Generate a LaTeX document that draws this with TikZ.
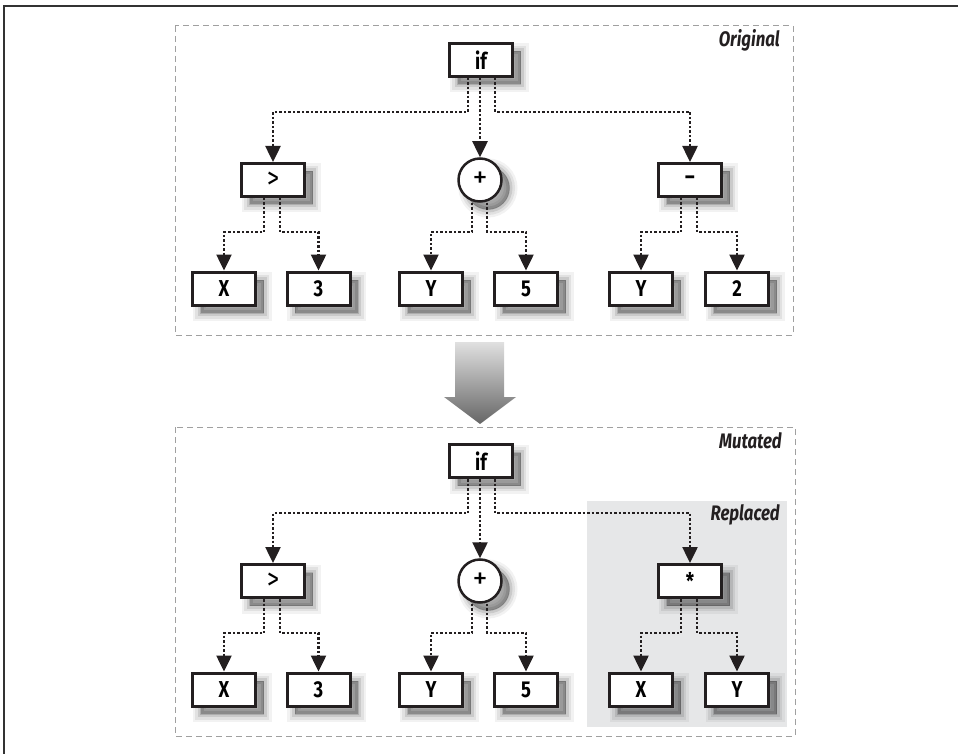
\documentclass[tikz,border=0pt]{standalone}
\usepackage{fontspec}
\setmainfont{Fira Sans}
\newfontfamily\cond[FakeStretch=0.8]{Fira Sans}
\newfontfamily\plain{Fira Sans Light}
\usetikzlibrary{arrows.meta}
\definecolor{repl}{RGB}{230,231,232}
\definecolor{ink}{RGB}{35,31,32}
\definecolor{dashc}{RGB}{160,160,160}
\begin{document}
\begin{tikzpicture}[x=1pt,y=-1pt,
  shad/.style={
    preaction={draw=black, fill=black, line width=16pt, opacity=0.05, transform canvas={shift={(8pt,-8pt)}}},
    preaction={draw=black, fill=black, line width=11pt, opacity=0.07, transform canvas={shift={(8pt,-8pt)}}},
    preaction={draw=black, fill=black, line width=6pt, opacity=0.10, transform canvas={shift={(8pt,-8pt)}}},
    preaction={draw=black, fill=black, line width=1pt, opacity=0.14, transform canvas={shift={(8pt,-8pt)}}}},
  box/.style={shad, draw=ink, line width=3pt, fill=white, minimum width=63pt, minimum height=33pt, inner sep=0pt, font=\cond\bfseries\fontsize{23}{26}\selectfont},
  opbox/.style={box, font=\cond\fontsize{30}{30}\selectfont},
  opcirc/.style={shad, circle, draw=ink, line width=2.5pt, fill=white, minimum size=43pt, inner sep=0pt, font=\fontsize{30}{30}\selectfont},
  conn/.style={draw=ink, line width=2.5pt, dash pattern=on 2.5pt off 2pt, -{Triangle[length=16pt,width=15pt]}},
  dashbox/.style={draw=dashc, line width=1pt, dash pattern=on 6pt off 4pt},
  tag/.style={anchor=base east, inner sep=0pt, text=ink, font=\cond\bfseries\itshape\fontsize{21}{24}\selectfont}
]
\useasboundingbox (0,0) rectangle (958,754);
% outer frame
\draw[line width=1.5pt, black!80] (4,754) -- (4,6) -- (958,6);
% section frames
\draw[dashbox] (175,26) rectangle (793,335);
\draw[dashbox] (175,427) rectangle (795,736);
\fill[repl] (587,501) rectangle (787,727);
\node[tag] (orig) at (780,47) {Original};
\node[tag] (mut) at (782,448) {Mutated};
\node[tag] (rep) at (780,520) {Replaced};
% big arrow
\shade[top color=black!12, bottom color=black!60] (455,342) -- (504,342) -- (504,397) -- (516,397) -- (480,424) -- (444,397) -- (455,397) -- cycle;

% ---------- original tree
\node[box] (if) at (481,60) {if};
\node[opbox] (gt) at (273,180) {>};
\node[opcirc] (plus) at (480,180) {+};
\node[box] (minus) at (690,180) {–};
\node[box] (xa) at (224,288.5) {X};
\node[box] (ta) at (318.5,288.5) {3};
\node[box] (ya) at (431,288.5) {Y};
\node[box] (fa) at (526,288.5) {5};
\node[box] (yb) at (641,288.5) {Y};
\node[box] (tb) at (737,288.5) {2};

\draw[conn] ([xshift=-13pt]if.south) -- ++(0,34) -| (gt.north);
\draw[conn] (plus.north |- if.south) -- (plus.north);
\draw[conn] ([xshift=14pt]if.south) -- ++(0,34) -| (minus.north);
\draw[conn] ([xshift=-9pt]gt.south) -- ++(0,34) -| (xa.north);
\draw[conn] ([xshift=7pt]gt.south) -- ++(0,34) -| (ta.north);
\draw[conn] ([xshift=-8pt]plus.south) -- ++(0,29) -| (ya.north);
\draw[conn] ([xshift=7pt]plus.south) -- ++(0,29) -| (fa.north);
\draw[conn] ([xshift=-9pt]minus.south) -- ++(0,34) -| (yb.north);
\draw[conn] ([xshift=7pt]minus.south) -- ++(0,34) -| (tb.north);

% ---------- mutated tree
\node[box] (if2) at (481,461) {if};
\node[opbox] (gt2) at (273,581) {>};
\node[opcirc] (plus2) at (480,581) {+};
\node[box] (times) at (690,581) {*};
\node[box] (xc) at (224,689.5) {X};
\node[box] (tc) at (318.5,689.5) {3};
\node[box] (yc) at (431,689.5) {Y};
\node[box] (fc) at (526,689.5) {5};
\node[box] (xd) at (641,689.5) {X};
\node[box] (yd) at (737,689.5) {Y};

\draw[conn] ([xshift=-13pt]if2.south) -- ++(0,34) -| (gt2.north);
\draw[conn] (plus2.north |- if2.south) -- (plus2.north);
\draw[conn] ([xshift=14pt]if2.south) -- ++(0,34) -| (times.north);
\draw[conn] ([xshift=-9pt]gt2.south) -- ++(0,34) -| (xc.north);
\draw[conn] ([xshift=7pt]gt2.south) -- ++(0,34) -| (tc.north);
\draw[conn] ([xshift=-8pt]plus2.south) -- ++(0,29) -| (yc.north);
\draw[conn] ([xshift=7pt]plus2.south) -- ++(0,29) -| (fc.north);
\draw[conn] ([xshift=-9pt]times.south) -- ++(0,34) -| (xd.north);
\draw[conn] ([xshift=7pt]times.south) -- ++(0,34) -| (yd.north);
\end{tikzpicture}
\end{document}
